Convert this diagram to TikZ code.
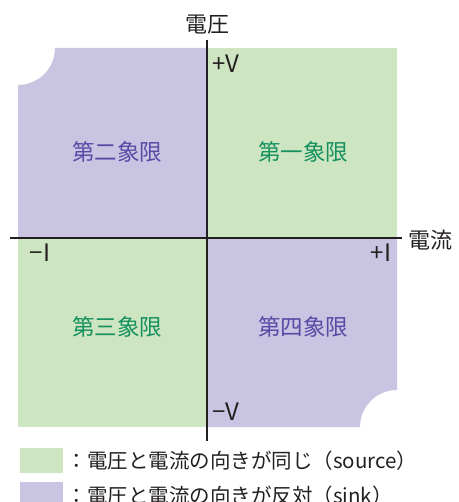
\documentclass[tikz,border=0pt]{standalone}
\usepackage{fontspec}
\setmainfont{Noto Sans CJK JP}
\usetikzlibrary{positioning}
\definecolor{srcfill}{HTML}{CEE5C1}
\definecolor{snkfill}{HTML}{C9C4E2}
\definecolor{srctext}{HTML}{15905F}
\definecolor{snktext}{HTML}{5A4AA6}
\definecolor{axisgray}{HTML}{231F20}
\begin{document}
\begin{tikzpicture}[x=1pt,y=1pt]
\useasboundingbox (0,0) rectangle (458,-502);
\begin{scope}
\tikzstyle{axis} = [line width=2.6pt,draw=axisgray]
\tikzstyle{word} = [inner sep=0pt,text=axisgray,font=\fontsize{22pt}{26pt}\selectfont]
\tikzstyle{sign} = [inner sep=0pt,text=axisgray,font=\fontsize{24pt}{28pt}\selectfont]
\tikzstyle{quad} = [inner sep=0pt,font=\fontsize{22.5pt}{26pt}\selectfont]
\tikzstyle{legend} = [inner sep=0pt,text=axisgray,font=\fontsize{20.5pt}{24pt}\selectfont]

\node [anchor=center,inner sep=0pt] (o) at (207,-238) {};

% quadrants
\fill [snkfill] (18,-238) -- (18,-85) arc (-90:0:37) -- (207,-48) -- (o.center) -- cycle;
\fill [srcfill] (o.center) -- (207,-48) -- (397,-48) -- (397,-238) -- cycle;
\fill [srcfill] (18,-238) -- (o.center) -- (207,-427) -- (18,-427) -- cycle;
\fill [snkfill] (o.center) -- (397,-238) -- (397,-390) arc (90:180:37) -- (207,-427) -- cycle;

% axes
\coordinate (xl) at ([xshift=-197pt]o.center);
\coordinate (xr) at ([xshift=195pt]o.center);
\coordinate (yt) at ([yshift=198pt]o.center);
\coordinate (yb) at ([yshift=-203pt]o.center);
\draw [axis] (xl) -- (xr);
\draw [axis] (yt) -- (yb);

\node [word] (volt) at ([yshift=15pt]yt) {電圧};
\node [word,anchor=west] (curr) at ([xshift=6pt,yshift=-2pt]xr) {電流};
\node [sign,anchor=west] (pv) at ([xshift=5pt,yshift=-24pt]yt) {+V};
\node [sign,anchor=west] (nv) at ([xshift=5pt,yshift=29pt]yb) {−V};
\node [sign] (ni) at ([xshift=-167pt,yshift=-15pt]o.center) {−I};
\node [sign] (pi) at ([xshift=174pt,yshift=-15pt]o.center) {+I};

\node [quad,text=snktext] (q2) at (117,-152) {第二象限};
\node [quad,text=srctext] (q1) at (303,-152) {第一象限};
\node [quad,text=srctext] (q3) at (117,-327) {第三象限};
\node [quad,text=snktext] (q4) at (303,-327) {第四象限};

% legend
\node [fill=srcfill,minimum width=43pt,minimum height=25pt,inner sep=0pt,anchor=north west] (ks) at (20,-448) {};
\node [fill=snkfill,minimum width=43pt,minimum height=25pt,inner sep=0pt,anchor=north west] (kk) at (20,-482) {};
\node [legend,anchor=west] (ls) at ([xshift=3pt]ks.east) {：電圧と電流の向きが同じ（source）};
\node [legend,anchor=west] (lk) at ([xshift=3pt,yshift=-1pt]kk.east) {：電圧と電流の向きが反対（sink）};
\end{scope}
\end{tikzpicture}
\end{document}
